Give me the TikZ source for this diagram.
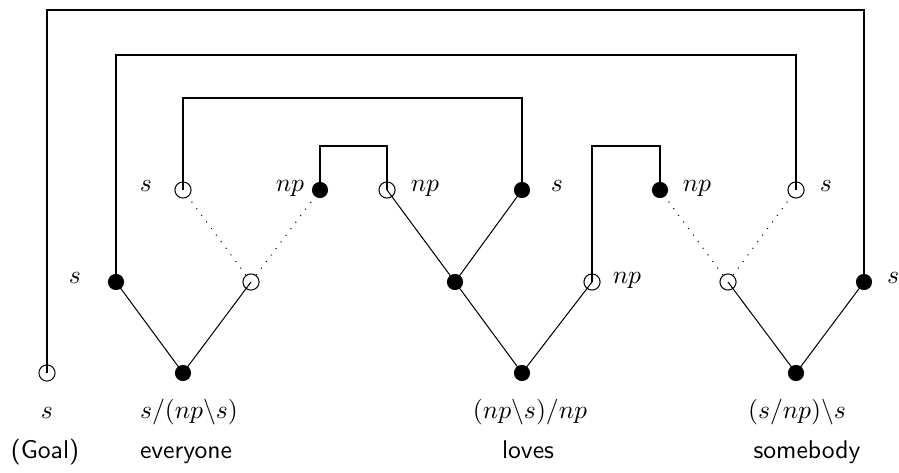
\documentclass[tikz,border=0pt]{standalone}
\begin{document}
\begin{tikzpicture}[x=0.39pt,y=-0.39pt,
  posdot/.style={circle,fill=black,inner sep=0pt,minimum size=6.3pt},
  negdot/.style={circle,draw=black,line width=0.4pt,inner sep=0pt,minimum size=6.3pt},
  link/.style={line width=0.4pt},
  par/.style={line width=0.4pt,dash pattern=on 0.4pt off 2.8pt},
  txt/.style={anchor=base,inner sep=0pt},
  word/.style={txt,font=\sffamily}]
\useasboundingbox (0,0) rectangle (899,473);

% goal
\node[negdot] (g) at (47,373) {};
% everyone
\node[posdot] (e) at (183,373) {};
\node[posdot] (eL) at (116,282) {};
\node[negdot] (eR) at (251,282) {};
\node[negdot] (eRL) at (183,190) {};
\node[posdot] (eRR) at (320,190) {};
% loves
\node[posdot] (l) at (522,373) {};
\node[posdot] (lL) at (455,282) {};
\node[negdot] (lR) at (592,282) {};
\node[negdot] (lLL) at (387,190) {};
\node[posdot] (lLR) at (522,190) {};
% somebody
\node[posdot] (s) at (796,373) {};
\node[negdot] (sL) at (728,282) {};
\node[posdot] (sR) at (864,282) {};
\node[posdot] (sLL) at (660,190) {};
\node[negdot] (sLR) at (796,190) {};

% heights of the axiom links
\coordinate (h1) at (0,10);
\coordinate (h2) at (0,55);
\coordinate (h3) at (0,98);
\coordinate (h4) at (0,146);

% tree edges
\draw[link] (e.center) -- (eL.center);
\draw[link] (e.center) -- (eR.center);
\draw[link] (l.center) -- (lL.center);
\draw[link] (l.center) -- (lR.center);
\draw[link] (lL.center) -- (lLL.center);
\draw[link] (lL.center) -- (lLR.center);
\draw[link] (s.center) -- (sL.center);
\draw[link] (s.center) -- (sR.center);
\draw[par] (eR) -- (eRL);
\draw[par] (eR) -- (eRR);
\draw[par] (sL) -- (sLL);
\draw[par] (sL) -- (sLR);

% axiom links
\draw[link] (g.center) -- (g.center |- h1) -| (sR.center);
\draw[link] (eL.center) -- (eL.center |- h2) -| (sLR.center);
\draw[link] (eRL.center) -- (eRL.center |- h3) -| (lLR.center);
\draw[link] (eRR.center) -- (eRR.center |- h4) -| (lLL.center);
\draw[link] (lR.center) -- (lR.center |- h4) -| (sLL.center);

% atom labels
\node[txt] (t1) at (146,192) {$s$};
\node[txt] (t2) at (290,192) {$np$};
\node[txt] (t3) at (425,192) {$np$};
\node[txt] (t4) at (557,192) {$s$};
\node[txt] (t5) at (697,192) {$np$};
\node[txt] (t6) at (826,192) {$s$};
\node[txt] (t7) at (75,283) {$s$};
\node[txt] (t8) at (627,283) {$np$};
\node[txt] (t9) at (893,283) {$s$};

% formulas
\node[txt] (f0) at (47,418) {$s$};
\node[txt] (f1) at (189,418) {$s/(np\backslash s)$};
\node[txt] (f2) at (530,418) {$(np\backslash s)/np$};
\node[txt] (f3) at (797,418) {$(s/np)\backslash s$};

% words
\node[word] (w0) at (45,458) {(Goal)};
\node[word] (w1) at (186,458) {everyone};
\node[word] (w2) at (528,458) {loves};
\node[word] (w3) at (807,458) {somebody};
\end{tikzpicture}
\end{document}
